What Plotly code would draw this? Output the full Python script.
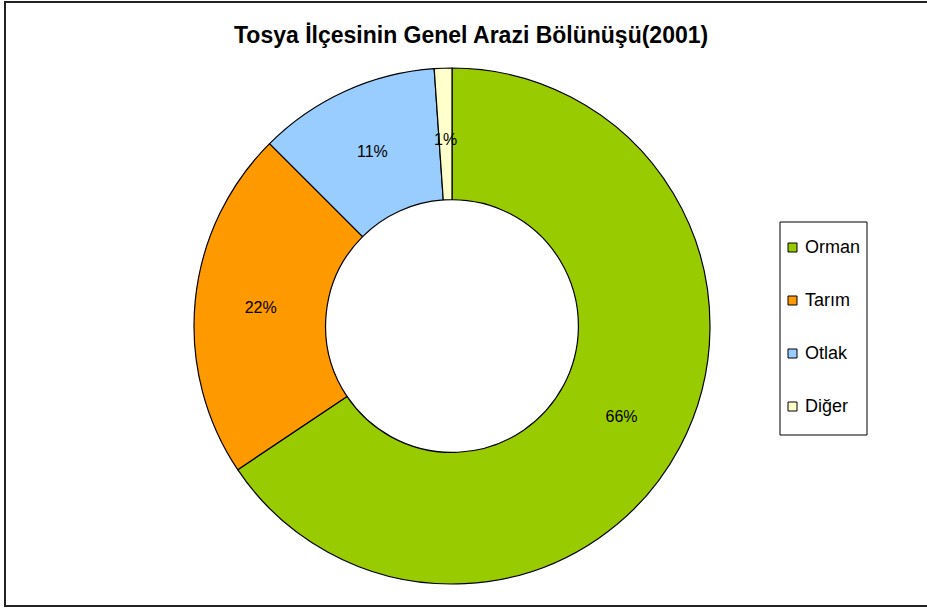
import math
import plotly.graph_objects as go

categories = ["Orman", "Tarım", "Otlak", "Diğer"]
values = [65.6, 21.9, 11.4, 1.1]
colors = ["#99CC00", "#FF9900", "#99CCFF", "#FFFFCC"]
title = "Tosya İlçesinin Genel Arazi Bölünüşü(2001)"

W, H = 927, 611
CX, CY, R = 452, 326, 258
HOLE = 0.49

def px(x):
    return x / W

def py(y):
    return 1 - y / H

total = sum(values)
percents = [v / total for v in values]
# small last slice: label shown as annotation at mid-ring (as in the original)
texts = ["%{percent:.0%}"] * (len(values) - 1) + [""]

fig = go.Figure()
fig.add_trace(go.Pie(
    labels=categories,
    values=values,
    sort=False,
    direction="clockwise",
    rotation=0,
    hole=HOLE,
    marker=dict(colors=colors, line=dict(color="black", width=1.2)),
    texttemplate=texts,
    textposition="inside",
    insidetextorientation="horizontal",
    textfont=dict(family="Liberation Sans, Arial", size=16, color="black"),
    showlegend=False,
    hoverinfo="label+percent",
    domain=dict(x=[px(CX - R), px(CX + R)], y=[py(CY + R), py(CY - R)]),
))

shapes = []
annotations = []

# label of the last (tiny) slice, placed from data at its mid angle on the mid ring
start = sum(percents[:-1]) * 360
mid_angle = math.radians(start + percents[-1] * 360 / 2)
r_mid = R * (1 + HOLE) / 2 * 0.97
lx = CX + r_mid * math.sin(mid_angle)
ly = CY - r_mid * math.cos(mid_angle)
annotations.append(dict(text=f"{round(percents[-1] * 100)}%", xref="paper", yref="paper",
                        x=px(lx), y=py(ly), xanchor="center", yanchor="middle", showarrow=False,
                        font=dict(family="Liberation Sans, Arial", size=16, color="black")))

# outer chart border (right edge lies beyond the picture)
shapes.append(dict(type="rect", xref="paper", yref="paper",
                   x0=px(5), x1=px(931), y0=py(606), y1=py(2),
                   line=dict(color="#222222", width=2), fillcolor="rgba(0,0,0,0)"))
# legend box
shapes.append(dict(type="rect", xref="paper", yref="paper",
                   x0=px(780), x1=px(867), y0=py(435), y1=py(222),
                   line=dict(color="black", width=1), fillcolor="white"))
legend_y = [247, 300, 353, 406]
for cat, col, yy in zip(categories, colors, legend_y):
    shapes.append(dict(type="rect", xref="paper", yref="paper",
                       x0=px(788), x1=px(797), y0=py(yy + 5), y1=py(yy - 4),
                       line=dict(color="black", width=1), fillcolor=col))
    annotations.append(dict(text=cat, xref="paper", yref="paper",
                            x=px(803), y=py(yy), xanchor="left", yanchor="middle",
                            showarrow=False,
                            font=dict(family="Liberation Sans, Arial", size=18, color="black")))

annotations.append(dict(text="<b>" + title + "</b>", xref="paper", yref="paper",
                        x=px(471), y=py(35), xanchor="center", yanchor="middle",
                        showarrow=False,
                        font=dict(family="Liberation Sans, Arial", size=23, color="black")))

fig.update_layout(
    width=W, height=H,
    margin=dict(l=0, r=0, t=0, b=0),
    paper_bgcolor="white",
    plot_bgcolor="white",
    shapes=shapes,
    annotations=annotations,
    uniformtext=dict(minsize=16, mode="show"),
)

fig.write_html("out.html", config={"displayModeBar": False},
               post_script="document.body.style.margin='0';")
